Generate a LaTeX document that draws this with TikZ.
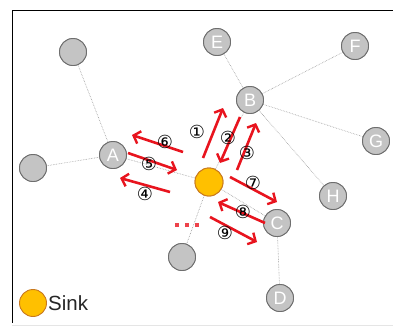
\documentclass[tikz,border=0pt]{standalone}
\usepackage{fontspec}
\setmainfont{Liberation Sans}
\newfontfamily\circfont{DejaVu Sans}
\usetikzlibrary{arrows.meta}
\definecolor{nodegray}{HTML}{C4C4C4}
\definecolor{nodeedge}{HTML}{6E6E6E}
\definecolor{sinkfill}{HTML}{FFC000}
\definecolor{sinkedge}{HTML}{C8781E}
\definecolor{arrred}{HTML}{E8141E}
\tikzset{
  net/.style={circle,draw=nodeedge,fill=nodegray,line width=0.9pt,minimum size=27pt,inner sep=0pt,text=white,font=\fontsize{18}{18}\selectfont},
  sinknode/.style={circle,draw=sinkedge,fill=sinkfill,line width=0.9pt,minimum size=28pt,inner sep=0pt},
  link/.style={draw=gray!80,line width=0.6pt,densely dotted},
  msg/.style={draw=arrred,line width=2.6pt,-{Straight Barb[length=6pt,width=13pt,line width=2.4pt]}},
  num/.style={font=\circfont\fontsize{18}{18}\selectfont,inner sep=0pt}
}
\begin{document}
\begin{tikzpicture}[x=1pt,y=-1pt]
\useasboundingbox (0,0) rectangle (393,327);
\fill[white] (0,0) rectangle (393,327);
\draw[black,line width=1pt] (393,10) -- (12,10) -- (12,323);
\draw[gray!20,line width=1pt] (12,325) -- (393,325);
% nodes
\node[net] (n1) at (73,52) {};
\node[net] (n2) at (33,168) {};
\node[net] (A) at (113,155) {A};
\node[net] (E) at (217,42) {E};
\node[net] (F) at (355,46) {F};
\node[net] (B) at (250,100) {B};
\node[net] (G) at (376,141) {G};
\node[net] (H) at (333,196) {H};
\node[net] (C) at (277,223) {C};
\node[net] (D) at (280,298) {D};
\node[net] (n3) at (182,257) {};
\node[sinknode] (S) at (209,182) {};
% links
\draw[link] (n1) -- (A);
\draw[link] (n2) -- (A);
\draw[link] (A) -- (S);
\draw[link] (E) -- (B);
\draw[link] (B) -- (F);
\draw[link] (B) -- (G);
\draw[link] (B) -- (H);
\draw[link] (B) -- (S);
\draw[link] (S) -- (C);
\draw[link] (C) -- (D);
\draw[link] (S) -- (n3);
% redraw nodes on top of links
\node[net] at (n1) {};
\node[net] at (n2) {};
\node[net] at (A) {A};
\node[net] at (E) {E};
\node[net] at (F) {F};
\node[net] at (B) {B};
\node[net] at (G) {G};
\node[net] at (H) {H};
\node[net] at (C) {C};
\node[net] at (D) {D};
\node[net] at (n3) {};
\node[sinknode] at (S) {};
% arrow anchors
\coordinate (a1s) at (203,158); \coordinate (a1e) at (223,108);
\coordinate (a2s) at (240,117); \coordinate (a2e) at (220,163);
\coordinate (a3s) at (237,170); \coordinate (a3e) at (256,123);
\coordinate (a4s) at (170,192); \coordinate (a4e) at (120,178);
\coordinate (a5s) at (128,153); \coordinate (a5e) at (177,170);
\coordinate (a6s) at (183,152); \coordinate (a6e) at (132,135);
\coordinate (a7s) at (230,177); \coordinate (a7e) at (277,202);
\coordinate (a8s) at (265,223); \coordinate (a8e) at (218,202);
\coordinate (a9s) at (210,217); \coordinate (a9e) at (257,242);
\draw[msg] (a1s) -- (a1e);
\draw[msg] (a2s) -- (a2e);
\draw[msg] (a3s) -- (a3e);
\draw[msg] (a4s) -- (a4e);
\draw[msg] (a5s) -- (a5e);
\draw[msg] (a6s) -- (a6e);
\draw[msg] (a7s) -- (a7e);
\draw[msg] (a8s) -- (a8e);
\draw[msg] (a9s) -- (a9e);
% labels
\node[num] (l1) at (197,132) {①};
\node[num] (l2) at (228,138) {②};
\node[num] (l3) at (247,153) {③};
\node[num] (l4) at (145,194) {④};
\node[num] (l5) at (149,164) {⑤};
\node[num] (l6) at (165,142) {⑥};
\node[num] (l7) at (253,183) {⑦};
\node[num] (l8) at (243,212) {⑧};
\node[num] (l9) at (225,233) {⑨};
% red dots
\coordinate (d1) at (175,225); \coordinate (d2) at (199,225);
\draw[arrred!80,line width=3.5pt,dash pattern=on 4pt off 6pt] (d1) -- (d2);
% legend
\node[sinknode,minimum size=27pt] (L) at (33,303) {};
\node[anchor=west,inner sep=0pt,font=\fontsize{20.5}{20.5}\selectfont,text=black!85] (Lt) at (48,303) {Sink};
\end{tikzpicture}
\end{document}
